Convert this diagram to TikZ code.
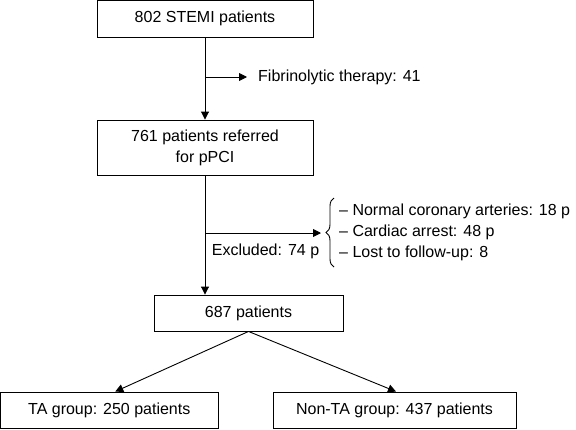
\documentclass[tikz,border=0pt]{standalone}
\usepackage{fontspec}
\setmainfont{Liberation Sans}
\usetikzlibrary{arrows.meta,decorations.pathreplacing}
\tikzset{
  box/.style={draw, line width=0.9pt, inner sep=0pt, align=center, font=\fontsize{16}{21}\selectfont},
  lbl/.style={inner sep=0pt, align=left, font=\fontsize{16}{21}\selectfont},
  arr/.style={line width=0.9pt, -{Triangle[length=8pt,width=8pt]}},
  ln/.style={line width=0.9pt}
}
\begin{document}
\begin{tikzpicture}[x=1pt,y=-1pt]
\useasboundingbox (0,0) rectangle (576,429);
\node[box, minimum width=216pt, minimum height=36.5pt] (b1) at (205,18.75) {802 STEMI patients};
\node[box, minimum width=216pt, minimum height=55pt] (b2) at (205,147.5) {761 patients referred\\for pPCI};
\node[box, minimum width=189pt, minimum height=36pt] (b3) at (248.5,313) {687 patients};
\node[box, minimum width=217.5pt, minimum height=36.5pt] (ta) at (109.25,410.25) {TA group: 250 patients};
\node[box, minimum width=243pt, minimum height=36.5pt] (nta) at (394.5,410.25) {Non-TA group: 437 patients};
\node[lbl, anchor=west] (fib) at (258,77) {Fibrinolytic therapy: 41};
\node[lbl, anchor=center] (exc) at (265.5,251) {Excluded: 74 p};
\node[lbl, anchor=west] (list) at (339,232.5) {-- Normal coronary arteries: 18 p\\-- Cardiac arrest: 48 p\\-- Lost to follow-up: 8};
\coordinate (ft) at (247,77);
\coordinate (bt) at (321,233);
\draw[arr] (b1.south) -- (b2.north);
\draw[arr] (b1.south |- ft) -- (ft);
\draw[arr] (b2.south) -- (b2.south |- b3.north);
\draw[arr] (b2.south |- bt) -- (bt);
\draw[ln, decorate, decoration={brace, amplitude=8pt}] (334,267) -- (334,198);
\draw[arr] (b3.south) -- ([xshift=6pt]ta.north);
\draw[arr] (b3.south) -- ([xshift=1.5pt]nta.north);
\end{tikzpicture}
\end{document}
